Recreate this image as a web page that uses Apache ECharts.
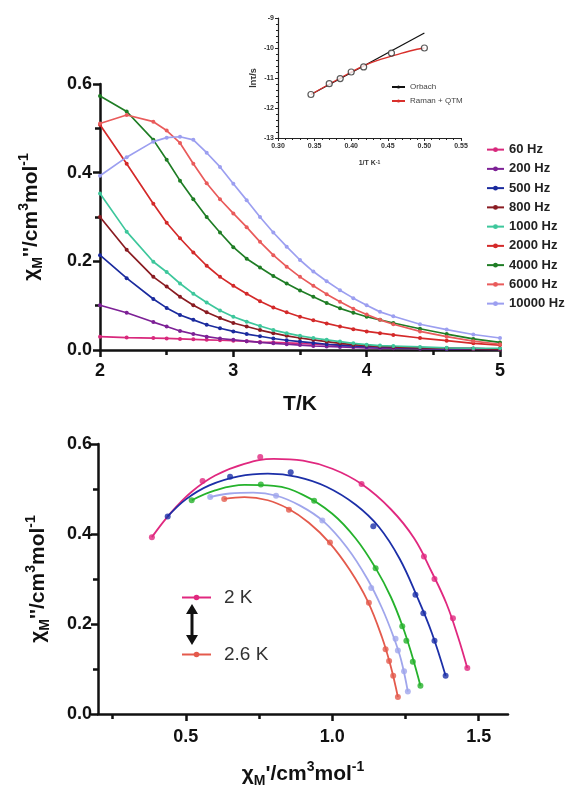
<!DOCTYPE html>
<html>
<head>
<meta charset="utf-8" />
<title></title>
<style>
html,body{margin:0;padding:0;background:#fff;}
#chart{width:567px;height:790px;}
</style>
</head>
<body>
<div id="chart"></div>
<script src="https://cdn.jsdelivr.net/npm/echarts@6.0.0/dist/echarts.min.js"></script>
<script>
// chi'' vs T, one series per frequency
var temps = [2.0, 2.2, 2.4, 2.5, 2.6, 2.7, 2.8, 2.9, 3.0, 3.1, 3.2, 3.3, 3.4, 3.5, 3.6, 3.7, 3.8, 3.9, 4.0, 4.1, 4.2, 4.4, 4.6, 4.8, 5.0];
var freqNames = ['60 Hz', '200 Hz', '500 Hz', '800 Hz', '1000 Hz', '2000 Hz', '4000 Hz', '6000 Hz', '10000 Hz'];
var hz60 = [0.030, 0.028, 0.027, 0.026, 0.025, 0.024, 0.023, 0.022, 0.021, 0.020, 0.018, 0.017, 0.016, 0.015, 0.013, 0.012, 0.011, 0.009, 0.008, 0.007, 0.006, 0.005, 0.004, 0.003, 0.002];
var hz200 = [0.101, 0.084, 0.063, 0.053, 0.043, 0.036, 0.030, 0.026, 0.023, 0.020, 0.017, 0.015, 0.013, 0.011, 0.009, 0.008, 0.007, 0.006, 0.005, 0.004, 0.004, 0.003, 0.002, 0.002, 0.001];
var hz500 = [0.214, 0.162, 0.115, 0.095, 0.079, 0.068, 0.057, 0.049, 0.042, 0.036, 0.031, 0.026, 0.022, 0.019, 0.016, 0.013, 0.011, 0.009, 0.008, 0.007, 0.006, 0.004, 0.003, 0.003, 0.002];
var hz800 = [0.300, 0.226, 0.165, 0.143, 0.120, 0.101, 0.085, 0.072, 0.061, 0.053, 0.045, 0.038, 0.032, 0.027, 0.023, 0.019, 0.015, 0.012, 0.010, 0.008, 0.007, 0.005, 0.004, 0.003, 0.002];
var hz1000 = [0.353, 0.267, 0.199, 0.176, 0.150, 0.127, 0.107, 0.089, 0.075, 0.064, 0.054, 0.045, 0.038, 0.032, 0.027, 0.023, 0.019, 0.015, 0.012, 0.010, 0.009, 0.007, 0.005, 0.004, 0.004];
var hz2000 = [0.508, 0.420, 0.330, 0.287, 0.252, 0.220, 0.190, 0.165, 0.145, 0.127, 0.110, 0.096, 0.085, 0.075, 0.067, 0.060, 0.053, 0.047, 0.042, 0.038, 0.034, 0.027, 0.021, 0.015, 0.011];
var hz4000 = [0.573, 0.538, 0.474, 0.429, 0.382, 0.340, 0.300, 0.265, 0.232, 0.206, 0.186, 0.167, 0.150, 0.134, 0.120, 0.106, 0.094, 0.084, 0.075, 0.068, 0.061, 0.048, 0.036, 0.025, 0.017];
var hz6000 = [0.511, 0.530, 0.515, 0.495, 0.467, 0.420, 0.376, 0.340, 0.308, 0.277, 0.244, 0.214, 0.188, 0.165, 0.145, 0.126, 0.109, 0.093, 0.080, 0.068, 0.058, 0.042, 0.030, 0.020, 0.013];
var hz10000 = [0.393, 0.435, 0.470, 0.479, 0.481, 0.474, 0.445, 0.413, 0.375, 0.338, 0.300, 0.265, 0.233, 0.203, 0.177, 0.155, 0.135, 0.117, 0.101, 0.086, 0.076, 0.058, 0.046, 0.035, 0.027];
var freqData = [hz60, hz200, hz500, hz800, hz1000, hz2000, hz4000, hz6000, hz10000];
var freqColors = ['#d8287c', '#7d2196', '#1b2b9e', '#8a1c22', '#3ec79c', '#d42a2a', '#1f7d25', '#e95b5b', '#9c9ff0'];

// inset: ln(tau) vs 1/T
var invT = [0.345, 0.370, 0.385, 0.400, 0.417, 0.455, 0.500];
var lnTau = [-11.55, -11.19, -11.02, -10.80, -10.63, -10.17, -10.00];
var orbachX = [0.345, 0.500];
var orbachY = [-11.55, -9.50];
var ramanX = [0.345, 0.400, 0.420, 0.440, 0.460, 0.480, 0.500];
var ramanY = [-11.55, -10.80, -10.56, -10.38, -10.24, -10.10, -10.00];

// Cole-Cole plots: measured [chi', chi''] points and the fitted arcs
var ccNames = ['2 K', '2.2 K', '2.4 K', '2.5 K', '2.6 K'];
var cc2 = [[0.384, 0.393], [0.557, 0.518], [0.754, 0.571], [1.100, 0.511], [1.313, 0.350], [1.349, 0.300], [1.412, 0.213], [1.461, 0.102]];
var cc22 = [[0.438, 0.439], [0.651, 0.527], [0.858, 0.537], [1.140, 0.417], [1.284, 0.265], [1.311, 0.224], [1.349, 0.163], [1.387, 0.085]];
var cc24 = [[0.520, 0.475], [0.756, 0.510], [0.938, 0.474], [1.148, 0.324], [1.239, 0.195], [1.253, 0.163], [1.275, 0.116], [1.301, 0.063]];
var cc25 = [[0.583, 0.482], [0.808, 0.485], [0.966, 0.430], [1.133, 0.280], [1.216, 0.167], [1.224, 0.141], [1.245, 0.095], [1.258, 0.050]];
var cc26 = [[0.631, 0.478], [0.852, 0.454], [0.992, 0.381], [1.125, 0.247], [1.182, 0.144], [1.194, 0.118], [1.208, 0.085], [1.224, 0.038]];
var fit2 = [[0.384, 0.393], [0.45, 0.448], [0.52, 0.494], [0.60, 0.530], [0.70, 0.556], [0.80, 0.567], [0.90, 0.563], [1.00, 0.545], [1.10, 0.511], [1.20, 0.455], [1.28, 0.390], [1.34, 0.315], [1.39, 0.245], [1.43, 0.170], [1.461, 0.102]];
var fit22 = [[0.438, 0.439], [0.50, 0.477], [0.58, 0.508], [0.68, 0.528], [0.78, 0.534], [0.88, 0.527], [0.98, 0.505], [1.08, 0.465], [1.16, 0.415], [1.23, 0.345], [1.29, 0.260], [1.34, 0.180], [1.387, 0.085]];
var fit24 = [[0.520, 0.475], [0.60, 0.497], [0.70, 0.509], [0.80, 0.507], [0.90, 0.487], [1.00, 0.445], [1.08, 0.390], [1.15, 0.322], [1.20, 0.260], [1.24, 0.195], [1.27, 0.135], [1.301, 0.063]];
var fit25 = [[0.583, 0.482], [0.65, 0.490], [0.73, 0.492], [0.81, 0.485], [0.89, 0.463], [0.97, 0.428], [1.05, 0.370], [1.12, 0.300], [1.17, 0.235], [1.21, 0.170], [1.235, 0.120], [1.258, 0.050]];
var fit26 = [[0.631, 0.478], [0.70, 0.482], [0.78, 0.475], [0.85, 0.456], [0.92, 0.425], [0.99, 0.381], [1.06, 0.320], [1.12, 0.252], [1.17, 0.170], [1.20, 0.105], [1.224, 0.038]];
var ccData = [cc2, cc22, cc24, cc25, cc26];
var ccFits = [fit2, fit22, fit24, fit25, fit26];
var ccColors = ['#e0287f', '#1c2fa8', '#25b22c', '#a0a6ec', '#e45a4c'];

var font = 'Liberation Sans, Arial, sans-serif';
var black = '#111';

function mainAxis(o) {
	var a = {
		type: 'value',
		splitLine: {show: false},
		axisLine: {onZero: false, lineStyle: {color: black, width: 2.5}},
		axisTick: {length: 7, lineStyle: {color: black, width: 2.5}},
		minorTick: {show: true, splitNumber: 2, length: 5, lineStyle: {color: black, width: 2.5}},
		axisLabel: {fontFamily: font, fontSize: 18, fontWeight: 'bold', color: black},
		nameLocation: 'middle',
		nameTextStyle: {fontFamily: font, color: black}
	};
	for (var k in o) {
		if (a[k] && typeof o[k] == 'object' && !Array.isArray(o[k])) {
			for (var j in o[k]) a[k][j] = o[k][j];
		} else {
			a[k] = o[k];
		}
	}
	return a;
}

var richName = {
	a: {fontFamily: font, fontSize: 21, fontWeight: 'bold', color: black, lineHeight: 28},
	s: {fontFamily: font, fontSize: 14, fontWeight: 'bold', color: black, lineHeight: 14, verticalAlign: 'bottom'},
	p: {fontFamily: font, fontSize: 14, fontWeight: 'bold', color: black, lineHeight: 14, verticalAlign: 'top'}
};
var smallFont = {fontFamily: font, fontSize: 7, fontWeight: 'bold', color: '#333'};

var series = [];
for (var i = 0; i < freqNames.length; i++) {
	var pts = [];
	for (var j = 0; j < temps.length; j++) pts.push([temps[j], freqData[i][j]]);
	series.push({
		type: 'line', name: freqNames[i], xAxisIndex: 0, yAxisIndex: 0,
		data: pts, symbol: 'circle', symbolSize: 4, color: freqColors[i],
		lineStyle: {width: 1.7}
	});
}
var orbach = [], raman = [], taus = [];
for (var i = 0; i < orbachX.length; i++) orbach.push([orbachX[i], orbachY[i]]);
for (var i = 0; i < ramanX.length; i++) raman.push([ramanX[i], ramanY[i]]);
for (var i = 0; i < invT.length; i++) taus.push([invT[i], lnTau[i]]);
series.push({type: 'line', name: 'Orbach', xAxisIndex: 1, yAxisIndex: 1, data: orbach, symbol: 'none', color: '#111', lineStyle: {width: 1.3}});
series.push({type: 'line', name: 'Raman + QTM', xAxisIndex: 1, yAxisIndex: 1, data: raman, smooth: true, symbol: 'none', color: '#d9302c', lineStyle: {width: 1.3}});
series.push({type: 'scatter', name: 'tau', xAxisIndex: 1, yAxisIndex: 1, data: taus, symbol: 'circle', symbolSize: 6, z: 5,
	itemStyle: {color: '#fff', borderColor: '#333', borderWidth: 1.2}});
for (var i = 0; i < ccNames.length; i++) {
	series.push({
		type: 'line', name: ccNames[i], xAxisIndex: 2, yAxisIndex: 2,
		data: ccFits[i], smooth: 0.4, symbol: 'circle', symbolSize: 5, showSymbol: false,
		color: ccColors[i], lineStyle: {width: 1.8}
	});
	series.push({
		type: 'scatter', name: ccNames[i], xAxisIndex: 2, yAxisIndex: 2,
		data: ccData[i], symbol: 'circle', symbolSize: 6, color: ccColors[i], z: 3
	});
}

var option = {
	backgroundColor: '#fff',
	animation: false,
	grid: [
		{left: 100, top: 84, width: 400, height: 266},
		{left: 278, top: 18, width: 183, height: 120},
		{left: 98, top: 444, width: 410, height: 270}
	],
	xAxis: [
		mainAxis({gridIndex: 0, min: 2, max: 5, interval: 1, axisLabel: {margin: 12},
			name: 'T/K', nameGap: 44, nameTextStyle: {fontSize: 21, fontWeight: 'bold'}}),
		{
			type: 'value', gridIndex: 1, min: 0.3, max: 0.55, interval: 0.05,
			splitLine: {show: false},
			axisLine: {onZero: false, lineStyle: {color: '#222', width: 1.2}},
			axisTick: {length: 3, lineStyle: {color: '#222'}},
			minorTick: {show: true, splitNumber: 5, length: 2, lineStyle: {color: '#222'}},
			axisLabel: {margin: 5, fontFamily: font, fontSize: 7, fontWeight: 'bold', color: '#333', formatter: function(v){ return v.toFixed(2); }},
			name: '{a|1/T K}{p|-1}', nameLocation: 'middle', nameGap: 22,
			nameTextStyle: {rich: {a: smallFont, p: {fontFamily: font, fontSize: 5, fontWeight: 'bold', color: '#333', verticalAlign: 'top', lineHeight: 5}}}
		},
		mainAxis({gridIndex: 2, min: 0.2, max: 1.6, position: 'bottom',
			axisLabel: {margin: 14, customValues: [0.5, 1.0, 1.5], formatter: function(v){ return v.toFixed(1); }},
			axisTick: {customValues: [0.5, 1.0, 1.5]}, minorTick: {show: false},
			name: '{a|χ}{s|M}{a|\'/cm}{p|3}{a|mol}{p|-1}', nameGap: 46, nameTextStyle: {rich: richName}}),
		mainAxis({gridIndex: 2, min: 0.2, max: 1.6, position: 'bottom', axisLine: {show: false}, axisLabel: {show: false},
			axisTick: {customValues: [0.25, 0.75, 1.25], length: 5}, minorTick: {show: false}})
	],
	yAxis: [
		mainAxis({gridIndex: 0, min: 0, max: 0.6, interval: 0.2, axisLabel: {margin: 8, formatter: function(v){ return v.toFixed(1); }},
			name: '{a|χ}{s|M}{a|\'\'/cm}{p|3}{a|mol}{p|-1}', nameGap: 55, nameTextStyle: {rich: richName}}),
		{
			type: 'value', gridIndex: 1, min: -13, max: -9, interval: 1,
			splitLine: {show: false},
			axisLine: {onZero: false, lineStyle: {color: '#222', width: 1.2}},
			axisTick: {length: 3, lineStyle: {color: '#222'}},
			minorTick: {show: true, splitNumber: 5, length: 2, lineStyle: {color: '#222'}},
			axisLabel: {margin: 4, fontFamily: font, fontSize: 7, fontWeight: 'bold', color: '#333'},
			name: 'lnτ/s', nameLocation: 'middle', nameGap: 20,
			nameTextStyle: {fontFamily: font, fontSize: 9, fontWeight: 'bold', color: '#333'}
		},
		mainAxis({gridIndex: 2, min: 0, max: 0.6, interval: 0.2, axisLabel: {margin: 6, formatter: function(v){ return v.toFixed(1); }},
			name: '{a|χ}{s|M}{a|\'\'/cm}{p|3}{a|mol}{p|-1}', nameGap: 46, nameTextStyle: {rich: richName}})
	],
	legend: [
		{
			data: freqNames, orient: 'vertical', left: 481, top: 135,
			itemWidth: 17, itemHeight: 6, itemGap: 0,
			textStyle: {fontFamily: font, fontSize: 13, fontWeight: 'bold', color: '#222', lineHeight: 19.25}
		},
		{
			data: ['Orbach', 'Raman + QTM'], orient: 'vertical', left: 386, top: 77,
			itemWidth: 13, itemHeight: 4, itemGap: 4,
			textStyle: {fontFamily: font, fontSize: 8, color: '#444', lineHeight: 10}
		},
		{
			data: ['2 K'], left: 176, top: 583,
			itemWidth: 29, itemHeight: 7,
			textStyle: {fontFamily: font, fontSize: 19, color: '#333', padding: [0, 0, 0, 8]}
		},
		{
			data: ['2.6 K'], left: 176, top: 640,
			itemWidth: 29, itemHeight: 7,
			textStyle: {fontFamily: font, fontSize: 19, color: '#333', padding: [0, 0, 0, 8]}
		}
	],
	graphic: [
		{type: 'line', shape: {x1: 192, y1: 612, x2: 192, y2: 637}, style: {stroke: '#111', lineWidth: 3}},
		{type: 'polygon', shape: {points: [[186, 614], [198, 614], [192, 604]]}, style: {fill: '#111'}},
		{type: 'polygon', shape: {points: [[186, 635], [198, 635], [192, 645]]}, style: {fill: '#111'}}
	],
	series: series
};

var myChart = echarts.init(document.getElementById('chart'));
myChart.setOption(option);
</script>
</body>
</html>
